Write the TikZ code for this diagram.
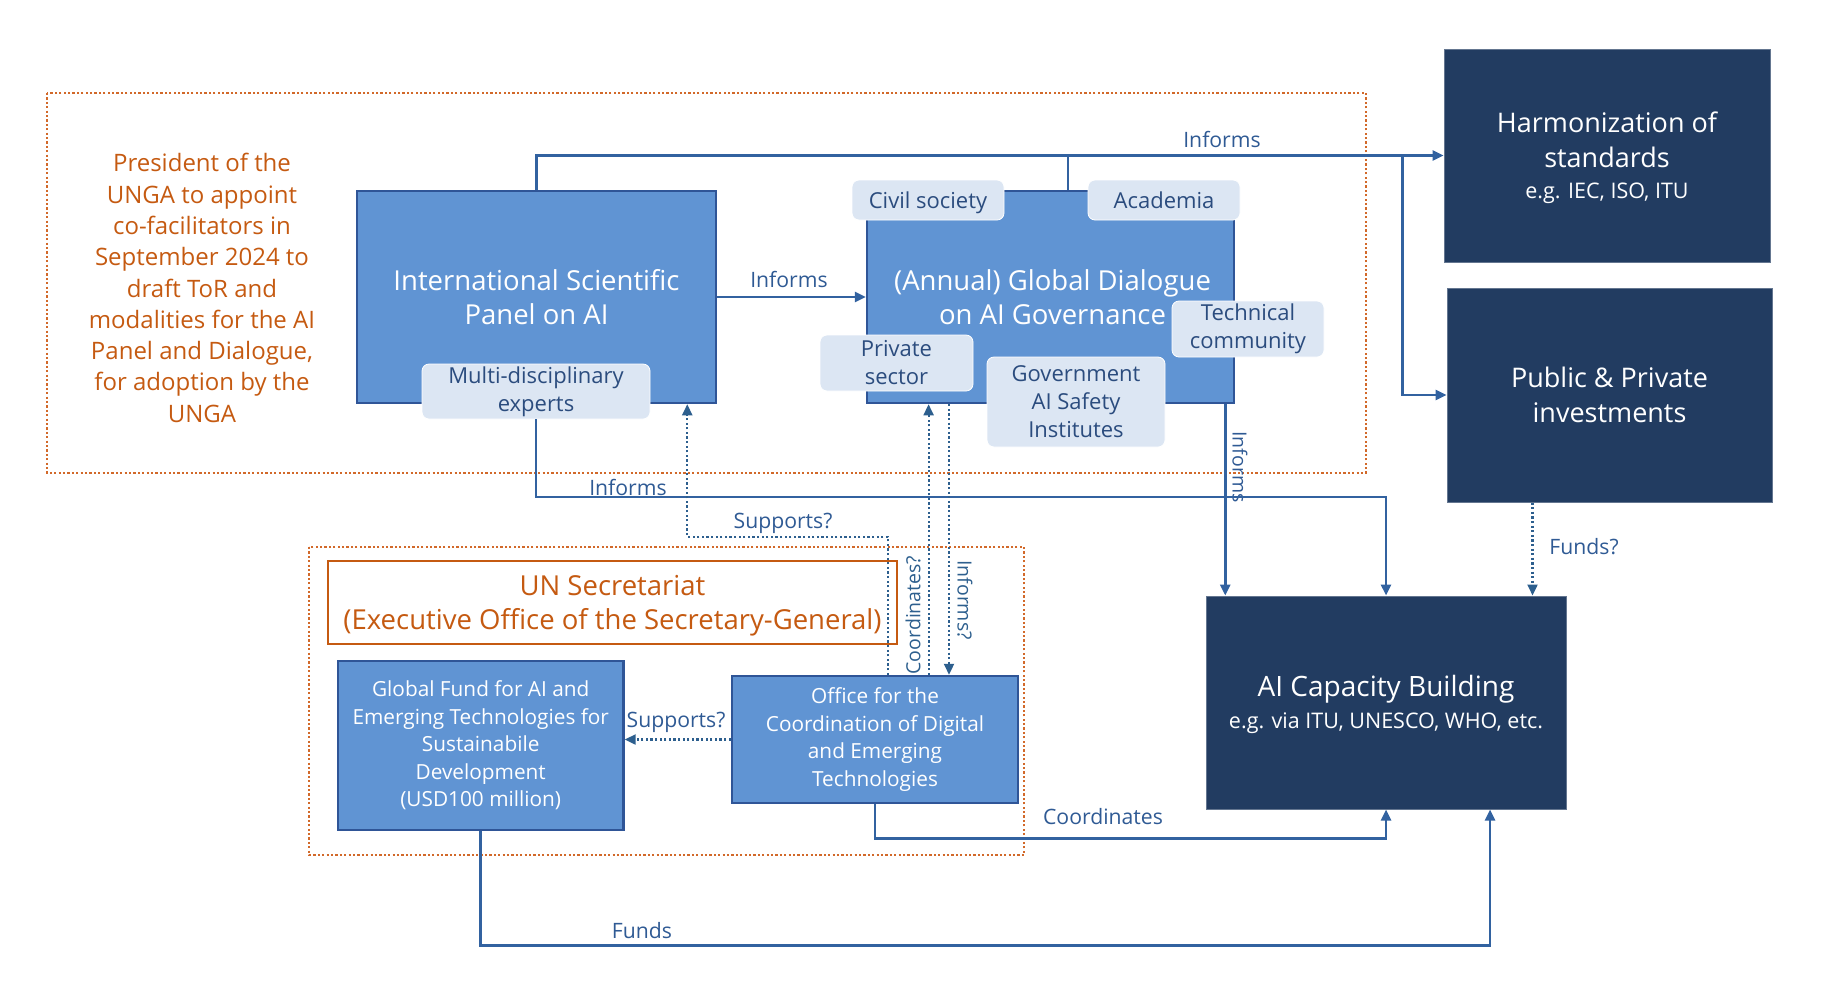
\documentclass[tikz,border=0pt]{standalone}
\usepackage{fontspec}
\setmainfont{Open Sans}
\usetikzlibrary{arrows.meta,calc}
\definecolor{bfill}{HTML}{6094D3}
\definecolor{bborder}{HTML}{2F5597}
\definecolor{lfill}{HTML}{DCE6F3}
\definecolor{ltext}{HTML}{2B4C7E}
\definecolor{navy}{HTML}{223C61}
\definecolor{orng}{HTML}{C55A11}
\definecolor{odot}{HTML}{D2692A}
\definecolor{cline}{HTML}{3262A0}
\definecolor{dline}{HTML}{2D5F8E}
\definecolor{ltxt}{HTML}{2F5A94}
\tikzset{
  bluebox/.style={draw=bborder, fill=bfill, line width=2.5pt, inner sep=0pt, text=white, align=center},
  lightbox/.style={fill=lfill, draw=white, line width=0.8pt, rounded corners=7pt, inner sep=0pt, text=ltext, align=center, font=\fontsize{22}{28}\selectfont},
  navybox/.style={fill=navy, draw=navy!70!white, line width=1pt, inner sep=0pt, text=white, align=center},
  zone/.style={draw=odot, line width=2.2pt, dash pattern=on 2.2pt off 2.2pt},
  conn/.style={draw=cline, line width=2.5pt},
  dconn/.style={draw=dline, line width=2.2pt, dash pattern=on 2.2pt off 2.4pt},
  tip/.style={-{Triangle[length=11pt,width=10pt]}},
  lbl/.style={text=ltxt, inner sep=0pt, font=\fontsize{21.2}{24}\selectfont},
  vlbl/.style={text=dline, inner sep=0pt, font=\fontsize{19.5}{24}\selectfont},
}
\begin{document}
\begin{tikzpicture}[x=1pt,y=-1pt]
\useasboundingbox (0,0) rectangle (1827,997);
% zones
\draw[zone] (47,93) rectangle (1366,473);
\draw[zone] (309,547) rectangle (1024,855);

\node[text=orng, align=center, inner sep=0pt, font=\fontsize{24}{31.3}\selectfont] (pres) at (202,288)
 {President of the\\UNGA to appoint\\co-facilitators in\\September 2024 to\\draft ToR and\\modalities for the AI\\Panel and Dialogue,\\for adoption by the\\UNGA};

% main blue boxes
\node[bluebox, minimum width=359pt, minimum height=212pt, font=\fontsize{27.5}{34.5}\selectfont] (isp) at (536.5,297) {International Scientific\\Panel on AI};
\node[bluebox, minimum width=367pt, minimum height=212pt, font=\fontsize{27.5}{34.5}\selectfont] (gd) at (1050.5,297) {\hspace*{4pt}(Annual) Global Dialogue\\\hspace*{4pt}on AI Governance};

% light boxes
\node[lightbox, minimum width=228pt, minimum height=55pt] (mdx) at (536,391.5) {Multi-disciplinary\\experts};
\node[lightbox, minimum width=152pt, minimum height=40pt, text height=20pt, text depth=3pt] (civil) at (928,200) {Civil society};
\node[lightbox, minimum width=152pt, minimum height=40pt, text height=20pt, text depth=3pt] (acad) at (1164,200) {Academia};
\node[lightbox, minimum width=152pt, minimum height=56pt] (tech) at (1248,329) {Technical\\community};
\node[lightbox, minimum width=153pt, minimum height=56pt] (priv) at (896.5,363) {Private\\sector};
\node[lightbox, minimum width=178pt, minimum height=90pt] (gov) at (1076,402) {Government\\AI Safety\\Institutes};

% navy boxes
\node[navybox, minimum width=326pt, minimum height=213pt, font=\fontsize{27}{35}\selectfont] (harm) at (1607,155.5)
 {\rule{0pt}{26pt}Harmonization of\\standards\\[-4pt]{\fontsize{21.5}{28}\selectfont e.g. IEC, ISO, ITU}};
\node[navybox, minimum width=325pt, minimum height=214pt, font=\fontsize{27}{35}\selectfont] (pub) at (1609.5,395) {Public \& Private\\investments};
\node[navybox, minimum width=360pt, minimum height=213pt, font=\fontsize{28}{32}\selectfont] (aicb) at (1386,702.5)
 {\rule{0pt}{25pt}AI Capacity Building\\{\fontsize{21.5}{28}\selectfont e.g. via ITU, UNESCO, WHO, etc.}};

% lower boxes
\node[draw=orng, line width=2pt, fill=white, inner sep=0pt, text=orng, align=center, minimum width=569pt, minimum height=83pt, font=\fontsize{27.5}{34}\selectfont] (unsec) at (612.5,602.5) {\rule{0pt}{27pt}UN Secretariat\\(Executive Office of the Secretary-General)};
\node[bluebox, minimum width=285.5pt, minimum height=169pt, font=\fontsize{20.8}{27.5}\selectfont] (fund) at (480.7,745.5) {Global Fund for AI and\\Emerging Technologies for\\Sustainabile\\Development\\(USD100 million)};
\node[bluebox, minimum width=286pt, minimum height=127pt, font=\fontsize{20.8}{27.7}\selectfont] (office) at (875,739.5) {Office for the\\Coordination of Digital\\and Emerging\\Technologies};

% connectors
\draw[conn, tip] (isp.east) -- (gd.west);
\node[lbl] (linf1) at (789,279) {Informs};

\draw[conn, tip] (isp.north) |- (harm.west);
\draw[conn] ([xshift=17.5pt]gd.north) -- ([xshift=17.5pt]gd.north |- harm.west);
\coordinate (br) at (1402.5,155.5);
\draw[conn, tip] (br) |- (pub.west);
\node[lbl] (linf2) at (1222,139) {Informs};

\draw[conn, tip] ([xshift=-10pt]gd.south east) -- ([xshift=-10pt]gd.south east |- aicb.north);
\node[vlbl, text=ltxt, rotate=-90] (linf3) at (1240,467) {Informs};

\draw[conn, tip] (mdx.south) -- ++(0,77.5) -| (aicb.north);
\node[lbl] (linf4) at (628,487.5) {Informs};

\draw[dconn, tip] ([xshift=13pt]office.north) -- ++(0,-138) -| ([xshift=-30pt]isp.south east);
\node[lbl] (lsup1) at (783,523) {Supports?};

\draw[dconn, tip] ([xshift=53.6pt]office.north) -- ([xshift=53.6pt]office.north |- gd.south);
\node[vlbl, rotate=90] (lcoo1) at (913,615) {Coordinates?};

\draw[dconn, tip] ([xshift=74pt]office.north |- gd.south) -- ([xshift=74pt]office.north);
\node[vlbl, rotate=-90] (linf5) at (965,600) {Informs?};

\draw[dconn, tip] (office.west) -- (office.west -| fund.east);
\node[lbl] (lsup2) at (676,722) {Supports?};

\draw[conn, tip] (office.south) -- ++(0,34) -| (aicb.south);
\node[lbl] (lcoo2) at (1103,817) {Coordinates};

\draw[conn, tip] (fund.south) -- ++(0,114) -| ([xshift=104pt]aicb.south);
\node[lbl] (lfund) at (642,931) {Funds};

\draw[dconn, tip] ([xshift=-77pt]pub.south) -- ([xshift=-77pt]pub.south |- aicb.north);
\node[lbl] (lfund2) at (1584,547) {Funds?};
\end{tikzpicture}
\end{document}
